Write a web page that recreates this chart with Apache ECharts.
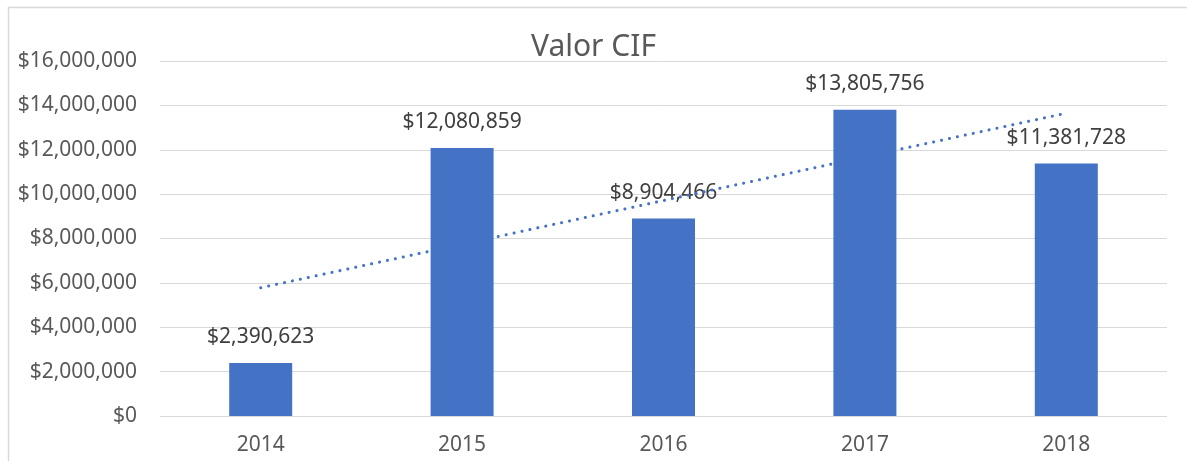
<!DOCTYPE html>
<html lang="es">
<head>
    <meta charset="UTF-8">
    <title>Valor CIF</title>
    <style>
        html, body { margin: 0; padding: 0; background: #fff; }
        #chart { width: 1187px; height: 461px; }
    </style>
</head>
<body>
    <div id="chart"></div>
    <script src="https://cdn.jsdelivr.net/npm/echarts@6/dist/echarts.min.js"></script>
    <script>
        // datos
        var years = ['2014', '2015', '2016', '2017', '2018'];
        var valorCif = [2390623, 12080859, 8904466, 13805756, 11381728];
        // linea de tendencia (punteada), valores estimados en cada año
        var tendencia = [5780000, 7740000, 9710000, 11680000, 13650000];
        var yTicks = [0, 2000000, 4000000, 6000000, 8000000, 10000000, 12000000, 14000000, 16000000];

        var azul = '#4472C4';
        var fuente = '"Noto Sans", "Open Sans", sans-serif';

        function dinero(v) {
            return '$' + Math.round(v).toString().replace(/\B(?=(\d{3})+(?!\d))/g, ',');
        }

        var chart = echarts.init(document.getElementById('chart'));

        var option = {
            animation: false,
            backgroundColor: '#fff',
            textStyle: { fontFamily: fuente },
            title: {
                text: 'Valor CIF',
                left: 'center',
                top: 27,
                textStyle: { fontFamily: fuente, fontSize: 30, fontWeight: 'normal', color: '#595959' }
            },
            graphic: [{
                type: 'rect',
                left: 6, top: 5,
                shape: { width: 1300, height: 600 },
                style: { fill: 'none', stroke: '#d9d9d9', lineWidth: 1.5 },
                silent: true
            }],
            grid: { left: 160, right: 20, top: 61, bottom: 45 },
            xAxis: {
                type: 'category',
                data: years,
                axisLine: { show: false },
                axisTick: { show: false },
                axisLabel: { color: '#595959', fontSize: 21, margin: 19, fontFamily: fuente }
            },
            yAxis: {
                type: 'value',
                min: yTicks[0],
                max: yTicks[yTicks.length - 1],
                interval: yTicks[1] - yTicks[0],
                axisLine: { show: false },
                axisTick: { show: false },
                axisLabel: { color: '#595959', fontSize: 21, margin: 23, fontFamily: fuente, formatter: dinero },
                splitLine: { lineStyle: { color: '#d9d9d9', width: 1 } }
            },
            series: [
                {
                    name: 'Valor CIF',
                    type: 'bar',
                    data: valorCif,
                    barWidth: 63,
                    itemStyle: { color: azul },
                    label: {
                        show: true,
                        position: 'top',
                        distance: 15,
                        color: '#404040',
                        fontSize: 21,
                        fontFamily: fuente,
                        formatter: function (p) { return dinero(p.value); }
                    },
                    z: 2
                },
                {
                    name: 'Tendencia',
                    type: 'line',
                    data: tendencia,
                    symbol: 'none',
                    lineStyle: { color: azul, width: 3, type: [0.1, 8], cap: 'round' },
                    silent: true,
                    z: 3
                }
            ]
        };

        chart.setOption(option);
    </script>
</body>
</html>
